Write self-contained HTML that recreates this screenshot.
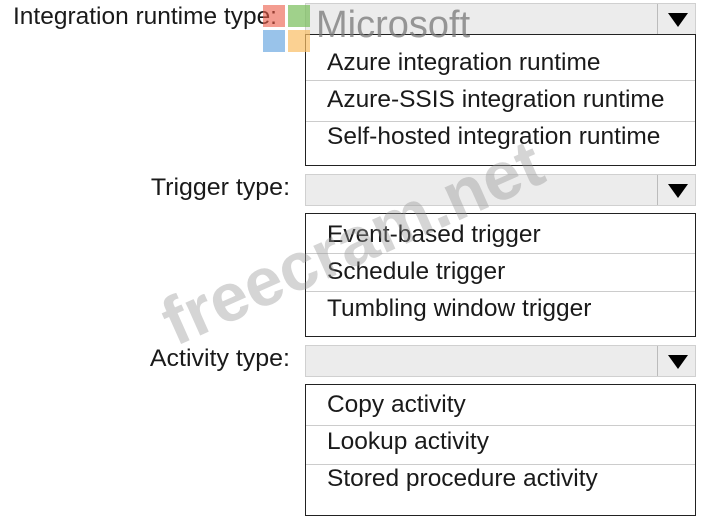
<!DOCTYPE html>
<html><head><style>
body{margin:0;width:704px;height:503px;background:#fff;position:relative;overflow:hidden;font-family:"Liberation Sans",sans-serif;color:#1a1a1a}
.lab{position:absolute;font-size:24px;text-align:right;width:290px;left:0;transform-origin:right top}
.dd{position:absolute;left:305px;width:389px;height:30px;background:#ececec;border:1px solid #d0d0d0}
.dd .sep{position:absolute;left:351px;top:0;bottom:0;border-left:1px solid #bbb}
.dd .ar{position:absolute;left:362px;top:9px;width:0;height:0;border-left:10px solid transparent;border-right:10px solid transparent;border-top:14px solid #000}
.ls{position:absolute;left:305px;width:389px;border:1.5px solid #222;background:#fff}
.ls div{position:absolute;left:0;right:0;border-top:1.5px solid #ccc}
.it{position:absolute;left:327px;font-size:24px;line-height:26px;transform:scaleX(1.02);transform-origin:left top;white-space:nowrap}
</style></head><body>
<div class="lab" style="top:3px;left:13px;text-align:left;transform:scaleX(1.02);transform-origin:left top;white-space:nowrap">Integration runtime type:</div>
<div class="dd" style="top:3px"><div class="sep"></div><div class="ar"></div></div>
<div class="ls" style="top:34px;height:130px"><div style="top:45px"></div><div style="top:86px"></div></div>
<div class="it" style="top:50px">Azure integration runtime</div>
<div class="it" style="top:87px">Azure-SSIS integration runtime</div>
<div class="it" style="top:124px">Self-hosted integration runtime</div>

<div class="lab" style="top:174px;transform:scaleX(1.04)">Trigger type:</div>
<div class="dd" style="top:174px"><div class="sep"></div><div class="ar"></div></div>
<div class="ls" style="top:213px;height:122px"><div style="top:39px"></div><div style="top:77px"></div></div>
<div class="it" style="top:222px">Event-based trigger</div>
<div class="it" style="top:259px">Schedule trigger</div>
<div class="it" style="top:296px">Tumbling window trigger</div>

<div class="lab" style="top:345px;transform:scaleX(1.04)">Activity type:</div>
<div class="dd" style="top:345px"><div class="sep"></div><div class="ar"></div></div>
<div class="ls" style="top:384px;height:130px"><div style="top:40px"></div><div style="top:79px"></div></div>
<div class="it" style="top:392px">Copy activity</div>
<div class="it" style="top:429px">Lookup activity</div>
<div class="it" style="top:466px">Stored procedure activity</div>

<div style="position:absolute;left:263px;top:5px;width:22px;height:22px;background:rgba(235,90,70,.6)"></div>
<div style="position:absolute;left:288px;top:5px;width:22px;height:22px;background:rgba(120,190,90,.7)"></div>
<div style="position:absolute;left:263px;top:30px;width:22px;height:22px;background:rgba(110,170,225,.7)"></div>
<div style="position:absolute;left:288px;top:30px;width:22px;height:22px;background:rgba(250,190,100,.7)"></div>
<div style="position:absolute;left:316px;top:4px;font-size:38px;color:rgba(120,120,120,.75)">Microsoft</div>
<div style="position:absolute;left:150px;top:290px;font-size:68px;font-weight:bold;color:rgba(150,150,150,.4);transform:rotate(-24deg);transform-origin:left top;white-space:nowrap">freecram.net</div>
</body></html>
